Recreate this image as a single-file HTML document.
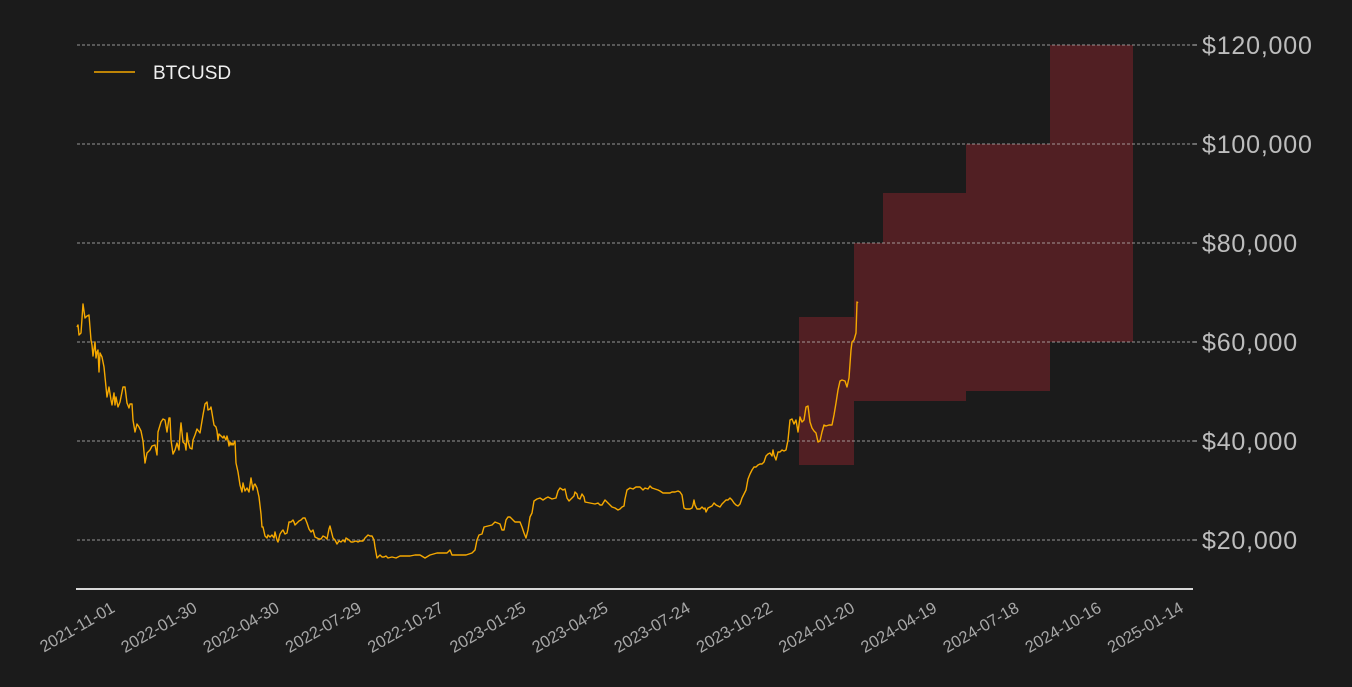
<!DOCTYPE html>
<html><head><meta charset="utf-8"><style>
html,body{margin:0;padding:0;background:#1b1b1b;}
svg{display:block;font-family:"Liberation Sans",sans-serif;}
</style></head><body>
<svg width="1352" height="687" viewBox="0 0 1352 687" xmlns="http://www.w3.org/2000/svg">
<rect width="1352" height="687" fill="#1b1b1b"/>
<g fill="#511f23">
<rect x="799" y="317" width="55" height="148"/>
<rect x="854" y="243" width="29" height="158"/>
<rect x="883" y="193" width="83" height="208"/>
<rect x="966" y="144" width="84" height="247"/>
<rect x="1050" y="45" width="83" height="297"/>
</g>
<g stroke="#bdbdbd" stroke-width="0.8" stroke-dasharray="3,2">
<line x1="77" y1="45" x2="1193" y2="45"/>
<line x1="77" y1="144" x2="1193" y2="144"/>
<line x1="77" y1="243" x2="1193" y2="243"/>
<line x1="77" y1="342" x2="1193" y2="342"/>
<line x1="77" y1="441" x2="1193" y2="441"/>
<line x1="77" y1="540" x2="1193" y2="540"/>
</g>
<g stroke="#bdbdbd" stroke-width="1">
<line x1="1193" y1="45" x2="1197" y2="45"/><line x1="1193" y1="144" x2="1197" y2="144"/>
<line x1="1193" y1="243" x2="1197" y2="243"/><line x1="1193" y1="342" x2="1197" y2="342"/>
<line x1="1193" y1="441" x2="1197" y2="441"/><line x1="1193" y1="540" x2="1197" y2="540"/>
</g>
<line x1="76" y1="589" x2="1193" y2="589" stroke="#d8d8d8" stroke-width="2"/>
<polyline fill="none" stroke="#f5a800" stroke-width="1.4" stroke-linejoin="round" points="77,327 78,325 79,335 81,333 83,304 85,318 87,316 89,315 91,340 92,345 93,356 95,342 96,358 97,352 98,350 99,372 100,353 102,357 104,367 107,397 109,387 111,400 112,405 114,393 115,405 116,397 118,407 120,402 123,387 125,387 127,403 129,408 130,404 132,404 133,420 135,432 137,424 139,427 141,431 143,441 145,463 147,453 150,450 152,446 155,445 157,455 158,432 161,422 163,419 165,420 167,432 169,418 170,418 171,440 173,454 175,450 177,443 179,450 180,434 181,423 183,442 185,444 186,450 187,433 188,441 190,448 192,449 193,440 195,435 197,429 200,433 203,415 205,404 207,402 208,410 210,409 211,407 212,413 214,425 216,427 217,431 218,440 219,434 221,436 223,438 224,436 226,440 227,436 228,440 229,446 230,442 231,445 232,443 233,445 235,441 236,463 238,472 240,485 242,492 243,483 245,491 247,488 249,492 251,478 253,490 254,485 255,484 257,488 259,497 261,514 262,527 263,527 265,536 267,538 268,535 270,537 272,535 274,538 275,532 277,540 278,542 280,534 282,531 283,530 285,534 287,533 289,522 291,522 293,520 294,522 295,525 297,523 299,521 301,520 303,518 305,518 307,523 309,529 311,532 313,530 315,537 317,538 319,539 321,539 323,536 325,537 327,539 329,529 330,526 331,530 333,538 335,540 337,544 339,541 341,542 343,540 345,542 346,538 349,540 351,542 353,542 356,541 358,542 360,541 363,541 365,538 368,535 370,536 372,536 374,540 375,547 377,558 380,555 382,557 384,557 386,556 388,558 392,557 396,558 400,556 405,556 410,556 415,555 420,555 425,558 430,555 437,553 447,553 450,550 452,555 456,555 460,555 466,555 472,553 475,550 477,540 479,535 482,534 484,527 488,526 492,525 495,522 500,524 502,530 504,530 506,520 508,517 510,517 513,520 515,522 520,522 522,527 524,533 526,538 528,530 530,517 532,513 534,501 537,499 540,498 543,500 546,498 548,497 552,499 556,498 558,491 560,488 563,490 565,489 567,498 569,501 572,498 574,496 575,492 577,494 578,498 580,499 582,494 584,497 585,502 590,503 595,504 598,503 600,505 602,505 605,500 607,502 610,505 612,507 615,508 618,510 620,509 622,507 624,506 625,499 627,490 630,488 633,489 636,487 640,487 643,490 645,488 648,489 650,486 652,488 655,489 658,490 660,491 663,493 666,493 670,493 672,492 675,492 678,491 680,492 682,495 684,508 686,509 690,509 692,508 693,505 694,500 695,505 697,509 700,509 702,507 704,509 705,508 706,512 708,508 710,507 712,506 714,503 716,505 718,506 720,507 722,504 724,502 726,500 728,500 730,498 732,500 734,503 736,505 738,506 740,504 742,498 744,494 746,490 748,479 750,474 752,470 754,467 756,467 758,465 760,464 762,464 764,462 766,456 768,454 770,453 772,456 773,450 774,455 776,460 778,452 780,452 782,450 784,451 786,450 788,440 790,420 792,419 794,424 796,420 798,432 800,417 802,422 804,420 806,407 808,406 810,422 812,428 814,431 816,433 818,442 820,441 822,432 824,425 826,426 829,425 832,425 834,415 836,403 838,390 840,381 842,380 845,381 847,387 849,378 850,364 851,350 852,342 854,340 856,333 857,302 858,303"/>
<line x1="94" y1="72" x2="135" y2="72" stroke="#f5a800" stroke-width="1.5"/>
<text x="153" y="79" font-size="19" fill="#f0f0f0">BTCUSD</text>
<g font-size="25" fill="#bdbdbd" letter-spacing="0.8">
<text x="1202" y="54">$120,000</text>
<text x="1202" y="153">$100,000</text>
<text x="1202" y="252">$80,000</text>
<text x="1202" y="351">$60,000</text>
<text x="1202" y="450">$40,000</text>
<text x="1202" y="549">$20,000</text>
</g>
<g font-size="16.5" fill="#a8a8a8" text-anchor="end">
<text transform="translate(116,611) rotate(-30)">2021-11-01</text>
<text transform="translate(198.2,611) rotate(-30)">2022-01-30</text>
<text transform="translate(280.4,611) rotate(-30)">2022-04-30</text>
<text transform="translate(362.6,611) rotate(-30)">2022-07-29</text>
<text transform="translate(444.8,611) rotate(-30)">2022-10-27</text>
<text transform="translate(527,611) rotate(-30)">2023-01-25</text>
<text transform="translate(609.2,611) rotate(-30)">2023-04-25</text>
<text transform="translate(691.4,611) rotate(-30)">2023-07-24</text>
<text transform="translate(773.6,611) rotate(-30)">2023-10-22</text>
<text transform="translate(855.8,611) rotate(-30)">2024-01-20</text>
<text transform="translate(938,611) rotate(-30)">2024-04-19</text>
<text transform="translate(1020.2,611) rotate(-30)">2024-07-18</text>
<text transform="translate(1102.4,611) rotate(-30)">2024-10-16</text>
<text transform="translate(1184.6,611) rotate(-30)">2025-01-14</text>
</g>
</svg>
</body></html>
